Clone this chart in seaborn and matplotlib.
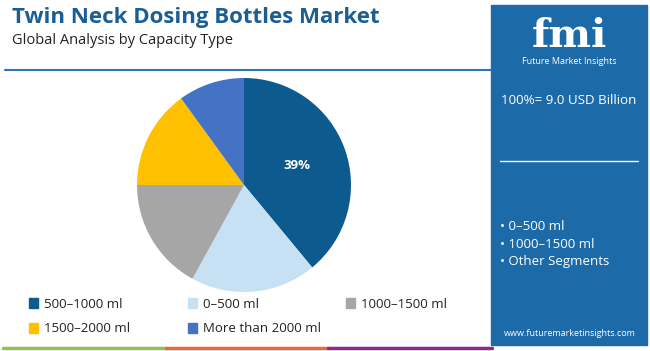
# Twin Neck Dosing Bottles Market - pie by capacity type
import matplotlib.pyplot as plt
import matplotlib.patches as mpatches
import seaborn as sns

# Data
capacities = ['500–1000 ml', '0–500 ml', '1000–1500 ml', '1500–2000 ml', 'More than 2000 ml']
shares = [39, 19, 17, 15, 10]
colors = ['#0d5a8e', '#c5e1f3', '#a6a6a6', '#ffc000', '#4472c4']

market_note = '100%= 9.0 USD Billion'
key_segments = ['0–500 ml', '1000–1500 ml', 'Other Segments']

sns.set_style('white')
plt.rcParams['font.family'] = ['Open Sans', 'DejaVu Sans']

W, H = 650, 351
fig = plt.figure(figsize=(W / 100, H / 100), dpi=100)


def fx(px):
    return px / W


def fy(py):
    return 1 - py / H


# Title block
fig.text(fx(12), fy(18), 'Twin Neck Dosing Bottles Market', fontsize=16,
         fontweight='bold', color='#1b5e95', va='center', ha='left')
fig.text(fx(12), fy(40), 'Global Analysis by Capacity Type', fontsize=10.5,
         color='#222222', va='center', ha='left')
fig.add_artist(plt.Line2D([fx(5), fx(491)], [fy(69.5), fy(69.5)],
                          color='#2e75b6', lw=1.5))

# Pie
cx, cy, r = 244, 185, 107
ax = fig.add_axes([fx(cx - r), fy(cy + r), 2 * r / W, 2 * r / H])
wedges, _, autotexts = ax.pie(
    shares, colors=colors, startangle=90, counterclock=False,
    autopct=lambda p: f'{p:.0f}%' if p > 30 else '', pctdistance=0.53,
    wedgeprops=dict(linewidth=0),
    textprops=dict(color='white', fontsize=9.5, fontweight='bold'))
ax.set_xlim(-1, 1)
ax.set_ylim(-1, 1)
ax.set_aspect('equal')

# Legend: one small legend per item, laid out row-wise
col_x = [22, 181, 339]
row_y = [304, 329]
for i, (lab, c) in enumerate(zip(capacities, colors)):
    x0, y0 = col_x[i % 3], row_y[i // 3]
    fig.legend([mpatches.Patch(color=c)], [lab], loc='center left',
               bbox_to_anchor=(fx(x0), fy(y0)), frameon=False, fontsize=9.5,
               handlelength=0.75, handleheight=0.75, handletextpad=0.4,
               borderpad=0, labelcolor='#222222')

# Bottom colour bar
for x0, x1, c in [(3, 166, '#8dc153'), (166, 328, '#e8683f'), (328, 492, '#8e2a8e')]:
    fig.add_artist(plt.Line2D([fx(x0), fx(x1)], [fy(348), fy(348)], color=c, lw=2.5))

# Right panel
fig.add_artist(mpatches.Rectangle((fx(491), fy(345)), fx(647 - 491), (345 - 5) / H,
                                  transform=fig.transFigure, color='#1c6ba8', zorder=0))
fig.text(fx(569), fy(47), 'fmi', fontsize=29, fontweight='bold', color='white',
         ha='center', va='baseline', family='DejaVu Serif')
fig.text(fx(569), fy(61), 'Future Market Insights', fontsize=6.5, color='white',
         ha='center', va='center')
fig.text(fx(569), fy(101), market_note, fontsize=9.6, color='white',
         ha='center', va='center')
fig.add_artist(plt.Line2D([fx(500), fx(638)], [fy(161), fy(161)], color='white', lw=1))
for k, seg in enumerate(key_segments):
    fig.text(fx(500), fy(227 + 17 * k), '• ' + seg, fontsize=9.5, color='white',
             ha='left', va='center')
fig.text(fx(570), fy(334), 'www.futuremarketinsights.com', fontsize=6.5,
         color='white', ha='center', va='center')

fig.savefig('out.png', dpi=100)
